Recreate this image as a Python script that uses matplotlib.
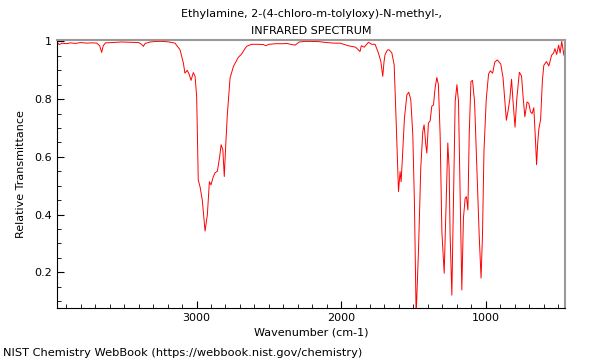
import matplotlib
matplotlib.use("Agg")
import matplotlib.pyplot as plt
import matplotlib.ticker as mticker
import numpy as np

TITLE = "Ethylamine, 2-(4-chloro-m-tolyloxy)-N-methyl-,\nINFRARED SPECTRUM"
FOOTER = "NIST Chemistry WebBook (https://webbook.nist.gov/chemistry)"

# wavenumber (cm-1) and relative transmittance
wavenumber = [
    3963, 3950, 3930, 3900, 3870, 3840, 3800, 3760, 3720, 3690, 3670, 3656, 3645, 3630,
    3580, 3520, 3460, 3400, 3380, 3368, 3355, 3320, 3280, 3230, 3190, 3149, 3114, 3091,
    3080, 3064, 3050, 3038, 3022, 3010, 2999, 2988, 2975, 2960, 2941, 2925, 2911, 2900,
    2885, 2872, 2856, 2840, 2830, 2818, 2808, 2798, 2787, 2768, 2745, 2711, 2690, 2665,
    2653, 2620, 2580, 2538, 2520, 2500, 2450, 2400, 2376, 2350, 2318, 2290, 2250, 2200,
    2150, 2100, 2050, 2007, 1950, 1900, 1869, 1860, 1840, 1811, 1788, 1765, 1742, 1725,
    1712, 1703, 1696, 1680, 1668, 1649, 1633, 1620, 1603, 1592, 1585, 1576, 1562, 1545,
    1532, 1518, 1504, 1493, 1481, 1465, 1449, 1435, 1426, 1414, 1407, 1396, 1384, 1373,
    1361, 1350, 1338, 1327, 1315, 1303, 1287, 1273, 1262, 1253, 1246, 1234, 1223, 1211,
    1199, 1188, 1176, 1165, 1154, 1142, 1133, 1123, 1114, 1102, 1091, 1077, 1061, 1045,
    1032, 1022, 1012, 1003, 996, 980, 968, 952, 937, 920, 896, 880, 868, 857,
    845, 833, 821, 812, 797, 785, 767, 752, 740, 729, 714, 702, 690, 679,
    667, 656, 648, 640, 632, 620, 608, 598, 580, 563, 544, 530, 521, 509,
    495, 485, 474, 459, 452, 450,
]
transmittance = [
    0.996, 0.989, 0.994, 0.992, 0.995, 0.993, 0.996, 0.994, 0.995, 0.994, 0.985, 0.962, 0.985, 0.995,
    0.996, 0.998, 0.997, 0.996, 0.990, 0.983, 0.993, 0.998, 1.000, 1.000, 0.998, 0.994, 0.971, 0.925,
    0.890, 0.900, 0.885, 0.865, 0.892, 0.879, 0.809, 0.520, 0.495, 0.450, 0.343, 0.400, 0.514, 0.503,
    0.530, 0.545, 0.550, 0.600, 0.642, 0.625, 0.532, 0.640, 0.746, 0.873, 0.913, 0.945, 0.955, 0.975,
    0.983, 0.990, 0.990, 0.989, 0.985, 0.990, 0.992, 0.992, 0.993, 0.990, 0.987, 0.998, 1.000, 1.000,
    0.999, 0.996, 0.994, 0.994, 0.985, 0.980, 0.965, 0.985, 0.980, 0.997, 0.990, 0.990, 0.960, 0.930,
    0.879, 0.930, 0.954, 0.970, 0.971, 0.960, 0.919, 0.735, 0.480, 0.549, 0.514, 0.596, 0.734, 0.815,
    0.824, 0.798, 0.676, 0.445, 0.050, 0.272, 0.561, 0.688, 0.711, 0.642, 0.613, 0.717, 0.725, 0.775,
    0.780, 0.838, 0.875, 0.850, 0.676, 0.341, 0.197, 0.445, 0.648, 0.561, 0.330, 0.121, 0.445, 0.792,
    0.850, 0.792, 0.445, 0.139, 0.387, 0.457, 0.462, 0.416, 0.676, 0.861, 0.865, 0.792, 0.561, 0.330,
    0.180, 0.330, 0.618, 0.720, 0.800, 0.887, 0.898, 0.890, 0.928, 0.936, 0.922, 0.875, 0.800, 0.727,
    0.760, 0.800, 0.869, 0.800, 0.703, 0.800, 0.893, 0.880, 0.800, 0.739, 0.790, 0.786, 0.756, 0.750,
    0.770, 0.662, 0.573, 0.650, 0.697, 0.730, 0.863, 0.917, 0.930, 0.915, 0.952, 0.960, 0.975, 0.955,
    0.987, 0.960, 1.000, 0.952, 0.980, 0.920,
]

plt.rcParams.update({
    "font.family": "DejaVu Sans",
    "font.size": 8,
})

fig = plt.figure(figsize=(6, 3.6), dpi=100)
ax = fig.add_axes([0.095, 0.144, 0.847, 0.745])

ax.plot(wavenumber, transmittance, color="red", linewidth=0.7)

ax.set_xlim(3965, 450)
ax.set_ylim(0.076, 1.005)
ax.xaxis.set_major_locator(mticker.MultipleLocator(1000))
ax.xaxis.set_minor_locator(mticker.MultipleLocator(100))
ax.yaxis.set_major_locator(mticker.MultipleLocator(0.2))
ax.yaxis.set_minor_locator(mticker.MultipleLocator(0.05))
ax.yaxis.set_major_formatter(mticker.FuncFormatter(lambda v, _: f"{v:g}"))
ax.tick_params(which="both", direction="in", top=False, right=False, labelsize=8)
ax.tick_params(which="major", length=5)
ax.tick_params(which="minor", length=3)

for side in ("top", "right"):
    ax.spines[side].set_color("#999999")
    ax.spines[side].set_linewidth(1.5)

ax.set_title(TITLE, fontsize=8, pad=4.5, linespacing=1.8)
ax.set_xlabel("Wavenumber (cm-1)", labelpad=3)
ax.set_ylabel("Relative Transmittance", labelpad=6)
fig.text(0.005, 0.02, FOOTER, fontsize=8.2, ha="left", va="center")

fig.savefig("out.png", dpi=100)
